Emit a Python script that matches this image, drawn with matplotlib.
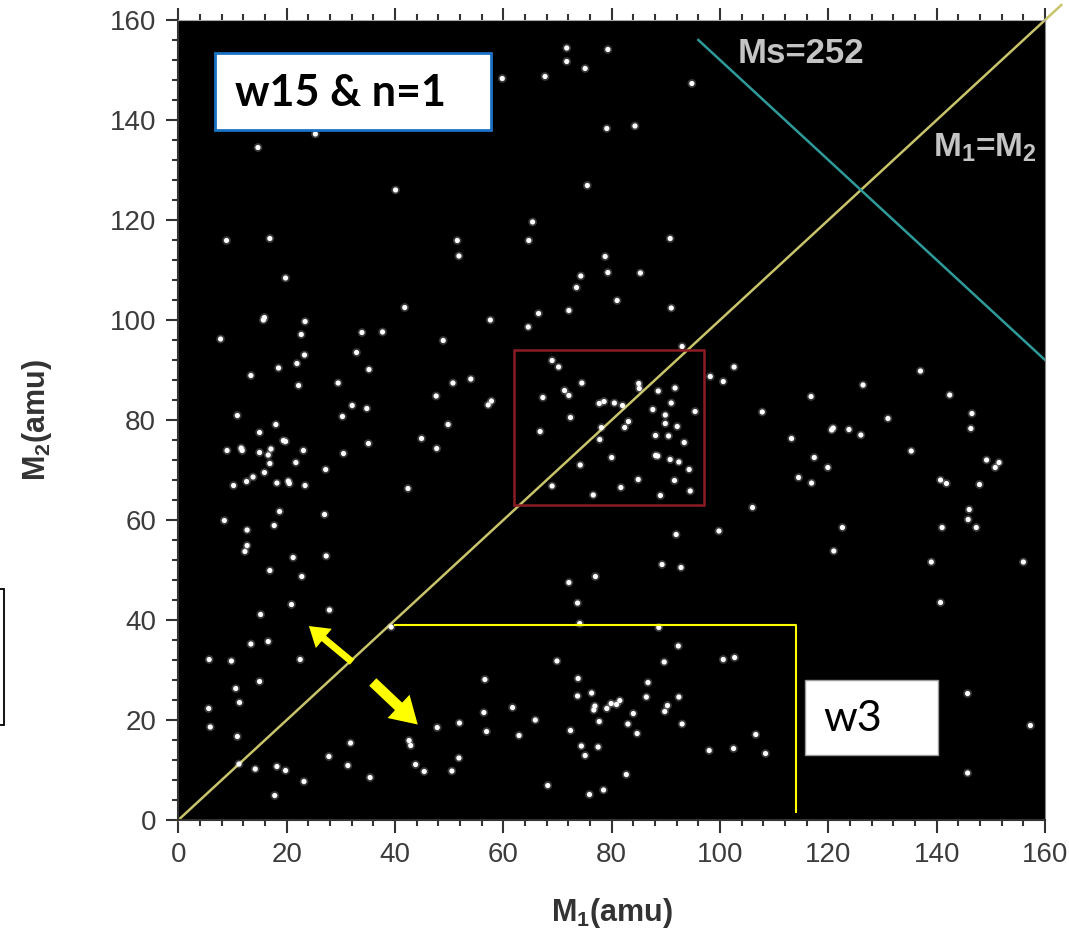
import matplotlib.pyplot as plt
from matplotlib.patches import Rectangle
from matplotlib.ticker import MultipleLocator

# fragment pairs (M1, M2) in amu
m1 = [25.3, 14.7, 40.1, 8.9, 16.9, 51.5, 51.8, 19.8,
      59.8, 67.7, 71.7, 71.7, 75.1, 79.3, 94.8, 79.1, 84.3, 75.5, 65.4, 64.7,
      90.8, 78.8, 79.3, 85.3, 74.3, 73.5,
      41.8, 15.7, 15.9, 23.4, 7.8, 22.7, 33.9, 37.7, 48.9, 23.3, 32.9, 21.9,
      18.5, 35.2, 13.4, 22.2, 29.5, 50.7, 47.6, 32.1, 34.8, 10.9, 30.3, 49.8,
      18.0, 15.0, 19.4, 19.8, 44.9, 35.1, 9.0, 11.8, 11.6, 15.0, 17.1, 16.6,
      23.1, 30.5, 47.7, 16.9, 21.7, 27.2, 15.9, 13.8, 12.6, 10.2, 18.2, 20.3,
      20.5, 23.4, 42.4, 18.7, 27.0, 8.5, 17.7, 12.7, 12.7, 12.3,
      81.0, 91.0, 57.6, 66.5, 72.1, 64.6, 93.0, 54.0, 69.0, 70.2, 102.6, 98.2,
      100.6, 74.5, 85.0, 85.1, 71.3, 72.1, 67.3, 88.6, 91.7, 57.2, 57.8, 77.7,
      78.6, 80.5, 82.0, 91.0, 87.6, 95.4, 89.9, 72.4, 83.1, 89.9, 82.4, 78.1,
      92.1, 66.8, 88.1, 90.5, 77.8, 93.4, 80.0, 88.5, 88.1, 90.8, 92.4, 74.2,
      94.3, 84.9, 91.6, 69.0, 81.7, 94.5, 76.6, 89.0, 106.0, 91.9, 99.8,
      137.0, 126.4, 116.8, 142.4, 107.8, 146.5, 131.0, 146.3, 120.6, 120.9,
      123.8, 126.0, 113.2, 135.3, 117.4, 119.9, 149.2, 151.5, 150.8, 114.5,
      116.9, 140.7, 141.8, 147.9, 146.0, 145.8, 147.3, 141.0, 122.6, 121.0,
      139.0, 156.0, 140.7, 145.7, 157.3, 145.7, 106.6, 108.4,
      21.2, 27.3, 16.9, 22.8, 20.9, 27.9, 15.2, 39.3, 16.6, 13.4, 5.7, 9.8,
      22.5, 15.0, 10.6, 11.3, 5.6, 5.9, 10.9, 47.8, 51.9, 31.8, 42.6, 42.9,
      27.8, 31.3, 11.2, 14.2, 18.2, 19.8, 43.8, 45.4, 50.5, 51.8, 23.2, 35.4,
      17.8,
      89.3, 92.8, 72.1, 77.0, 73.7, 74.1, 88.7, 92.3, 69.9, 89.7, 100.6, 102.7,
      56.6, 73.8, 86.7, 73.7, 76.3, 86.4, 92.4, 61.7, 76.9, 76.7, 79.1, 79.9,
      80.9, 81.5, 90.3, 89.8, 56.4, 65.9, 84.0, 77.7, 83.0, 93.0, 56.9, 62.9,
      72.4, 84.7, 74.4, 77.5, 75.1, 98.0, 102.5, 82.7, 68.2, 75.9, 78.5]
m2 = [137.2, 134.5, 126.0, 115.9, 116.3, 115.9, 112.8, 108.4,
      148.3, 148.7, 154.4, 151.7, 150.3, 154.1, 147.3, 138.3, 138.8, 126.9, 119.6, 115.9,
      116.3, 112.7, 109.5, 109.4, 108.8, 106.5,
      102.5, 100.0, 100.5, 99.7, 96.2, 97.1, 97.5, 97.6, 95.9, 93.0, 93.5, 91.3,
      90.4, 90.1, 88.9, 86.9, 87.4, 87.4, 84.8, 82.9, 82.3, 80.9, 80.7, 79.1,
      79.1, 77.5, 75.9, 75.7, 76.3, 75.3, 73.9, 73.9, 74.4, 73.5, 74.2, 73.0,
      73.9, 73.3, 74.3, 71.3, 71.5, 70.1, 69.5, 68.6, 67.7, 66.9, 67.4, 67.8,
      67.3, 66.9, 66.3, 61.7, 61.1, 59.9, 58.9, 58.0, 54.9, 53.7,
      103.9, 102.4, 100.0, 101.3, 101.9, 98.6, 94.7, 88.2, 91.9, 90.6, 90.6, 88.7,
      87.7, 87.4, 87.3, 86.3, 85.9, 84.9, 84.5, 85.8, 86.4, 83.0, 83.8, 83.3,
      83.7, 83.4, 82.9, 83.4, 82.1, 81.7, 81.0, 80.5, 79.7, 79.3, 78.5, 78.5,
      78.7, 77.7, 76.9, 76.8, 76.1, 75.5, 72.5, 72.8, 72.9, 72.1, 71.6, 71.0,
      70.1, 68.1, 67.9, 66.8, 66.5, 65.8, 65.0, 64.9, 62.5, 57.1, 57.8,
      89.8, 87.0, 84.7, 85.0, 81.6, 81.3, 80.3, 78.3, 78.0, 78.4,
      78.1, 77.0, 76.3, 73.8, 72.5, 70.5, 72.0, 71.5, 70.5, 68.5,
      67.4, 68.0, 67.3, 67.1, 62.1, 60.1, 58.5, 58.5, 58.5, 53.8,
      51.6, 51.6, 43.5, 25.3, 18.9, 9.4, 17.1, 13.3,
      52.5, 52.8, 49.9, 48.7, 43.1, 42.0, 41.1, 38.6, 35.7, 35.2, 32.1, 31.8,
      32.1, 27.7, 26.3, 23.5, 22.3, 18.6, 16.7, 18.5, 19.4, 15.4, 15.9, 14.9,
      12.7, 10.9, 11.2, 10.2, 10.7, 9.9, 11.1, 9.7, 9.8, 12.4, 7.7, 8.5,
      4.9,
      51.1, 50.5, 47.5, 48.7, 43.4, 39.3, 38.5, 34.8, 31.8, 31.6, 32.1, 32.5,
      28.1, 28.3, 27.5, 24.8, 25.4, 24.6, 24.6, 22.5, 22.8, 22.0, 22.3, 23.3,
      23.1, 23.9, 22.9, 21.7, 21.5, 20.0, 21.3, 19.7, 19.2, 19.2, 17.7, 16.9,
      17.9, 17.3, 14.8, 14.6, 12.9, 13.9, 14.3, 9.1, 6.9, 5.1, 6.0]

ms_total = 252
ms_line_m1 = [96, 160]
window_box = (62, 63, 97, 94)      # red box: m1 from, m2 from, m1 to, m2 to
w3_bracket_m1 = [40, 114, 114]
w3_bracket_m2 = [39, 39, 1.6]

plt.rcParams['font.family'] = ['Liberation Sans', 'DejaVu Sans']
plt.rcParams['mathtext.default'] = 'regular'

fig = plt.figure(figsize=(10.69, 9.39), dpi=100)
ax = fig.add_axes([0.1668, 0.1267, 0.8108, 0.852])
ax.set_facecolor('black')

ax.scatter(m1, m2, s=40, color='white', alpha=0.22, edgecolors='none', zorder=3)
ax.scatter(m1, m2, s=14, color='white', edgecolors='none', zorder=4)

# M1 = M2 diagonal and Ms = M1 + M2 line
ax.plot([0, 163], [0, 163], color='#c9c46a', lw=1.8, zorder=2, clip_on=False)
ax.plot(ms_line_m1, [ms_total - v for v in ms_line_m1], color='#2e9a9a', lw=1.8, zorder=2)

x0, y0, x1, y1 = window_box
ax.add_patch(Rectangle((x0, y0), x1 - x0, y1 - y0, fill=False,
                       edgecolor='#8c1c24', lw=1.8, zorder=5))
ax.plot(w3_bracket_m1, w3_bracket_m2, color='#ffff00', lw=1.5, zorder=5)

ax.text(103.3, 153.4, 'Ms=252', color='#c4c4c4', fontsize=25, fontweight='bold',
        va='center', ha='left', zorder=6)
ax.text(148.9, 134.4, 'M$_1$=M$_2$', color='#c4c4c4', fontsize=24, fontweight='bold',
        va='center', ha='center', zorder=6)

# annotation boxes
ax.add_patch(Rectangle((6.7, 138.1), 51.0, 15.4, facecolor='white',
                       edgecolor='#1a72c4', lw=2, zorder=7))
ax.text(10.4, 145.4, 'w15 & n=1', family='Lato', fontweight='bold', fontsize=31,
        va='center', ha='left', color='black', zorder=8)
ax.add_patch(Rectangle((115.6, 13.1), 24.7, 15.0, facecolor='white',
                       edgecolor='#9a9a9a', lw=1, zorder=7))
ax.text(119.0, 20.2, 'w3', family='Lato', fontsize=31,
        va='center', ha='left', color='black', zorder=8)

ax.annotate('', xy=(24.1, 38.8), xytext=(32.1, 31.6),
            arrowprops=dict(facecolor='#ffff00', edgecolor='none',
                            width=5, headwidth=18, headlength=14), zorder=8)
ax.annotate('', xy=(44.2, 19.1), xytext=(35.9, 27.6),
            arrowprops=dict(facecolor='#ffff00', edgecolor='none',
                            width=7.5, headwidth=23, headlength=19), zorder=8)

# cut-off box at the left edge of the picture
fig.patches.append(Rectangle((-0.01, 0.2279), 0.0133, 0.1448, fill=False,
                             edgecolor='black', lw=1.3, transform=fig.transFigure))

ax.set_xlim(0, 160)
ax.set_ylim(0, 160)
ax.xaxis.set_major_locator(MultipleLocator(20))
ax.yaxis.set_major_locator(MultipleLocator(20))
ax.xaxis.set_minor_locator(MultipleLocator(4))
ax.yaxis.set_minor_locator(MultipleLocator(4))
ax.tick_params(which='both', direction='out', color='#333333', width=1.5,
               labelsize=20, labelcolor='#3c3c3c', top=True, right=False)
ax.tick_params(which='major', length=9, pad=7)
ax.tick_params(which='minor', length=4.5)
for side in ['left', 'bottom']:
    ax.spines[side].set_color('#333333')
    ax.spines[side].set_linewidth(1.5)
ax.spines['top'].set_color('#aaaaaa')
ax.spines['right'].set_color('#888888')

ax.set_xlabel('M$_1$(amu)', fontsize=22, fontweight='bold', color='#333333', labelpad=20)
ax.set_ylabel('M$_2$(amu)', fontsize=22, fontweight='bold', color='#333333', labelpad=40)

fig.savefig('out.png', dpi=100, facecolor='white')
